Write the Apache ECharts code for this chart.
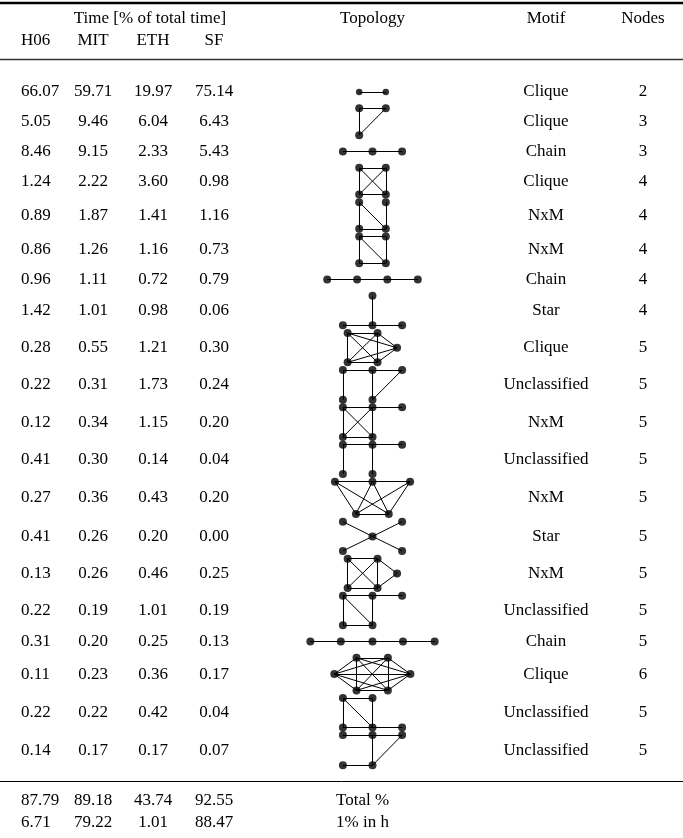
<!DOCTYPE html>
<html><head><meta charset="utf-8">
<script src="https://cdn.jsdelivr.net/npm/echarts@6/dist/echarts.min.js"></script>
<style>html,body{margin:0;padding:0;background:#fff}#c{width:683px;height:838px}</style>
</head><body><div id="c"></div>
<script>
// ---------- data ----------
const groupHeader = 'Time [% of total time]';
const colHeaders = ['H06', 'MIT', 'ETH', 'SF'];
const sideHeaders = ['Topology', 'Motif', 'Nodes'];
const h06 = ['66.07','5.05','8.46','1.24','0.89','0.86','0.96','1.42','0.28','0.22','0.12','0.41','0.27','0.41','0.13','0.22','0.31','0.11','0.22','0.14'];
const mit = ['59.71','9.46','9.15','2.22','1.87','1.26','1.11','1.01','0.55','0.31','0.34','0.30','0.36','0.26','0.26','0.19','0.20','0.23','0.22','0.17'];
const eth = ['19.97','6.04','2.33','3.60','1.41','1.16','0.72','0.98','1.21','1.73','1.15','0.14','0.43','0.20','0.46','1.01','0.25','0.36','0.42','0.17'];
const sf  = ['75.14','6.43','5.43','0.98','1.16','0.73','0.79','0.06','0.30','0.24','0.20','0.04','0.20','0.00','0.25','0.19','0.13','0.17','0.04','0.07'];
const motif = ['Clique','Clique','Chain','Clique','NxM','NxM','Chain','Star','Clique','Unclassified','NxM','Unclassified','NxM','Star','NxM','Unclassified','Chain','Clique','Unclassified','Unclassified'];
const nodeCount = ['2','3','3','4','4','4','4','4','5','5','5','5','5','5','5','5','5','6','5','5'];
const totalRow = ['87.79','89.18','43.74','92.55'];
const hourRow = ['6.71','79.22','1.01','88.47'];
const footLabels = ['Total %', '1% in h'];

// topology drawings: node layout in grid units, edges as node index pairs
const topoNodes = [
  [[-0.45,0],[0.45,0]],
  [[-0.45,0],[0.45,0],[-0.45,0.91]],
  [[-1,0],[0,0],[1,0]],
  [[-0.45,0],[0.45,0],[-0.45,0.9],[0.45,0.9]],
  [[-0.45,0],[0.45,0],[-0.45,0.9],[0.45,0.9]],
  [[-0.45,0],[0.45,0],[-0.45,0.9],[0.45,0.9]],
  [[-1.53,0],[-0.52,0],[0.5,0],[1.53,0]],
  [[0,0],[-1,1],[0,1],[1,1]],
  [[-0.84,0],[0.17,0],[0.83,0.5],[-0.84,0.99],[0.17,0.99]],
  [[-1,0],[0,0],[1,0],[-1,1],[0,1]],
  [[-1,0],[0,0],[1,0],[-1,1],[0,1]],
  [[-1,0],[0,0],[1,0],[-1,0.99],[0,0.99]],
  [[-1.27,0],[0,0],[1.27,0],[-0.56,1.09],[0.55,1.09]],
  [[-1,0],[1,0],[0,0.5],[-1,0.99],[1,0.99]],
  [[-0.84,0],[0.17,0],[0.83,0.5],[-0.84,0.99],[0.17,0.99]],
  [[-1,0],[0,0],[1,0],[-1,1],[0,1]],
  [[-2.1,0],[-1.07,0],[0,0],[1.03,0],[2.1,0]],
  [[-0.54,0],[0.52,0],[-1.29,0.55],[1.28,0.55],[-0.54,1.1],[0.52,1.1]],
  [[-1,0],[0,0],[-1,0.99],[0,0.99],[1,0.99]],
  [[-1,0],[0,0],[1,0],[-1,1.02],[0,1.02]]
];
const ALL = 'all';
const topoEdges = [
  [[0,1]],
  [[0,1],[0,2],[1,2]],
  [[0,1],[1,2]],
  ALL,
  [[0,2],[1,3],[0,3],[2,3]],
  [[0,1],[0,2],[1,3],[0,3],[2,3]],
  [[0,1],[1,2],[2,3]],
  [[0,2],[1,2],[2,3]],
  ALL,
  [[0,1],[1,2],[0,3],[1,4],[2,4]],
  [[0,1],[1,2],[0,3],[1,4],[0,4],[1,3],[3,4]],
  [[0,1],[1,2],[0,3],[1,4]],
  [[0,1],[1,2],[0,3],[0,4],[1,3],[1,4],[2,3],[2,4],[3,4]],
  [[0,2],[1,2],[2,3],[2,4]],
  [[0,1],[0,3],[1,4],[3,4],[0,4],[1,3],[1,2],[4,2]],
  [[0,1],[1,2],[0,3],[1,4],[0,4],[3,4]],
  [[0,1],[1,2],[2,3],[3,4]],
  ALL,
  [[0,1],[0,2],[1,3],[0,3],[2,3],[3,4]],
  [[0,1],[1,2],[1,4],[2,4],[3,4]]
];

// ---------- layout ----------
const W = 683, H = 838;
const U = 29.6;                 // px per grid unit
const colX = {h06: 21, mit: 93, eth: 153, sf: 214, topo: 372.5, motif: 546, nodes: 643, group: 150, foot: 336};
const padSingle = 12.45, padMulti = 3.85;
const firstTop = 92;
const yTopRule = 3, yHead1 = 19, yHead2 = 41, yMidRule = 59;
const yDataRule = 781, yFoot1 = 801, yFoot2 = 823;

const rows = [];
let prevBottom = null, prevPad = 0;
topoNodes.forEach((ns, i) => {
  const hUnits = Math.max(...ns.map(n => n[1]));
  const pad = hUnits > 0 ? padMulti : padSingle;
  const top = prevBottom === null ? firstTop : prevBottom + prevPad + pad;
  const bottom = top + hUnits * U;
  rows.push({top, bottom, mid: (top + bottom) / 2});
  prevBottom = bottom; prevPad = pad;
});

// text cells
const cells = [];
function cell(x, y, t, a) { cells.push({value: [x, y], t, a: a || 'center'}); }
cell(colX.group, yHead1, groupHeader);
cell(colX.h06, yHead2, colHeaders[0], 'left');
cell(colX.mit, yHead2, colHeaders[1]);
cell(colX.eth, yHead2, colHeaders[2]);
cell(colX.sf, yHead2, colHeaders[3]);
cell(colX.topo, yHead1, sideHeaders[0]);
cell(colX.motif, yHead1, sideHeaders[1]);
cell(colX.nodes, yHead1, sideHeaders[2]);
rows.forEach((r, i) => {
  cell(colX.h06, r.mid, h06[i], 'left');
  cell(colX.mit, r.mid, mit[i]);
  cell(colX.eth, r.mid, eth[i]);
  cell(colX.sf, r.mid, sf[i]);
  cell(colX.motif, r.mid, motif[i]);
  cell(colX.nodes, r.mid, nodeCount[i]);
});
[[totalRow, yFoot1, footLabels[0]], [hourRow, yFoot2, footLabels[1]]].forEach(([vals, y, lab]) => {
  cell(colX.h06, y, vals[0], 'left');
  cell(colX.mit, y, vals[1]);
  cell(colX.eth, y, vals[2]);
  cell(colX.sf, y, vals[3]);
  cell(colX.foot, y, lab, 'left');
});

// topology marks
const nodePts = [], edgeLines = [];
topoNodes.forEach((ns, i) => {
  const r = rows[i];
  const pts = ns.map(n => [colX.topo + n[0] * U, r.top + n[1] * U]);
  pts.forEach(p => nodePts.push({value: p, symbolSize: i === 0 ? 6.5 : 8}));
  let es = topoEdges[i];
  if (es === ALL) { es = []; for (let a = 0; a < ns.length; a++) for (let b = a + 1; b < ns.length; b++) es.push([a, b]); }
  es.forEach(([a, b]) => edgeLines.push({coords: [pts[a], pts[b]]}));
});

const ruleLines = [
  {coords: [[0, yTopRule], [W, yTopRule]], lineStyle: {width: 2.4, color: '#000'}},
  {coords: [[0, yMidRule], [W, yMidRule]], lineStyle: {width: 1.4, color: '#333'}},
  {coords: [[0, yDataRule], [W, yDataRule]], lineStyle: {width: 1, color: '#000'}}
];

const FONT = '17px "Liberation Serif", "Times New Roman", serif';
const chart = echarts.init(document.getElementById('c'), null, {renderer: 'canvas'});
chart.setOption({
  animation: false,
  backgroundColor: '#fff',
  grid: {left: 0, right: 0, top: 0, bottom: 0},
  xAxis: {type: 'value', min: 0, max: W, show: false},
  yAxis: {type: 'value', min: 0, max: H, inverse: true, show: false},
  series: [
    {type: 'lines', coordinateSystem: 'cartesian2d', silent: true, data: ruleLines, lineStyle: {opacity: 1}},
    {type: 'lines', coordinateSystem: 'cartesian2d', silent: true, data: edgeLines,
     lineStyle: {color: '#000', width: 1, opacity: 1}},
    {type: 'scatter', silent: true, data: nodePts, symbol: 'circle', itemStyle: {color: '#000'}, z: 5},
    {type: 'custom', silent: true, data: cells, renderItem: (params, api) => {
      const c = cells[params.dataIndex];
      const p = api.coord([api.value(0), api.value(1)]);
      return {type: 'text', x: p[0], y: p[1], style: {text: c.t, textAlign: c.a, textVerticalAlign: 'middle', font: FONT, fill: '#000'}};
    }}
  ]
});
</script></body></html>
